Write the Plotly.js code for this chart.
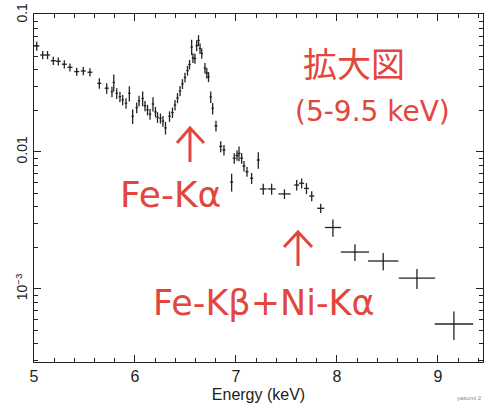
<!DOCTYPE html>
<html><head><meta charset="utf-8">
<script src="https://cdn.plot.ly/plotly-3.0.1.min.js"></script>
<style>html,body{margin:0;padding:0;background:#fff;} #chart{width:488px;height:409px;}</style>
</head><body><div id="chart"></div>
<script>
const energy = [5.027,5.086,5.134,5.191,5.241,5.300,5.356,5.423,5.488,5.554,
  5.647,5.720,5.772,5.790,5.819,5.851,5.878,5.911,5.944,5.977,
  6.017,6.040,6.076,6.099,6.124,6.149,6.178,6.203,6.223,6.252,
  6.277,6.302,6.342,6.371,6.396,6.421,6.446,6.470,6.495,6.520,
  6.540,6.561,6.574,6.594,6.611,6.629,6.644,6.661,6.693,6.711,
  6.728,6.750,6.769,6.802,6.849,6.881,6.957,6.983,7.010,7.030,
  7.056,7.079,7.109,7.155,7.221,7.270,7.353,7.480,7.601,7.650,
  7.698,7.750,7.839,7.960,8.178,8.458,8.792,9.158];
const energyErr = [0.027,0.025,0.025,0.025,0.025,0.025,0.025,0.025,0.025,0.025,
  0.02,0.02,0.012,0.012,0.012,0.012,0.012,0.012,0.012,0.012,
  0.012,0.012,0.012,0.012,0.012,0.012,0.012,0.012,0.012,0.012,
  0.012,0.012,0.012,0.012,0.012,0.012,0.012,0.012,0.012,0.012,
  0.012,0.012,0.012,0.012,0.012,0.012,0.012,0.012,0.012,0.012,
  0.012,0.012,0.012,0.015,0.015,0.015,0.015,0.015,0.015,0.015,
  0.015,0.015,0.015,0.015,0.015,0.033,0.04,0.06,0.025,0.025,
  0.025,0.025,0.035,0.08,0.14,0.15,0.18,0.19];
const flux = [0.0594,0.0510,0.0510,0.0464,0.0459,0.0437,0.0415,0.0386,0.0390,0.0382,
  0.0317,0.0292,0.0275,0.0322,0.0268,0.0253,0.0240,0.0227,0.0268,0.0182,
  0.0211,0.0236,0.0246,0.0217,0.0203,0.0189,0.0224,0.0196,0.0179,0.0176,
  0.0168,0.0150,0.0182,0.0194,0.0220,0.0248,0.0279,0.0314,0.0350,0.0393,
  0.0435,0.0584,0.0486,0.0481,0.0599,0.0651,0.0569,0.0524,0.0410,0.0377,
  0.0353,0.0252,0.0208,0.0155,0.01097,0.01034,0.00604,0.00900,0.00943,0.00975,
  0.00900,0.00790,0.00718,0.00643,0.00874,0.00537,0.00537,0.00494,0.00574,0.00591,
  0.00542,0.00477,0.00388,0.00281,0.00186,0.00160,0.00120,0.000555];
const fluxErr = [0.0045,0.0035,0.0035,0.0032,0.0031,0.0030,0.0028,0.0026,0.0027,0.0026,
  0.0028,0.0026,0.0024,0.0046,0.0024,0.0022,0.0021,0.0020,0.0034,0.0022,
  0.0019,0.0021,0.0030,0.0019,0.0018,0.0017,0.0027,0.0017,0.0016,0.0015,
  0.0015,0.0016,0.0016,0.0017,0.0019,0.0021,0.0024,0.0026,0.0029,0.0032,
  0.0035,0.0075,0.0040,0.0040,0.0055,0.0060,0.0050,0.0045,0.0036,0.0033,
  0.0030,0.0024,0.0020,0.0014,0.0010,0.0009,0.0009,0.0008,0.0008,0.0012,
  0.0008,0.0007,0.0006,0.0006,0.0012,0.0005,0.0005,0.0004,0.0005,0.0005,
  0.0005,0.0004,0.0003,0.0004,0.00026,0.00023,0.0002,0.00013];
const xTickVals = [5,6,7,8,9];
const yTickVals = [0.001,0.01,0.1];
const yTickText = ['10<sup>−3</sup>','0.01','0.1'];
const yMinorVals = [3e-4,4e-4,5e-4,6e-4,7e-4,8e-4,9e-4,0.002,0.003,0.004,0.005,0.006,0.007,0.008,0.009,0.02,0.03,0.04,0.05,0.06,0.07,0.08,0.09];

const ink = '#222';
const red = '#e2463d';
const tickFont = {family:'Liberation Sans, Arial, sans-serif', size:16, color:ink};

const trace = {
  x: energy, y: flux, type:'scatter', mode:'markers',
  marker:{size:1, color:ink},
  error_x:{type:'data', array:energyErr, visible:true, width:0, thickness:1.3, color:ink},
  error_y:{type:'data', array:fluxErr, visible:true, width:0, thickness:1.3, color:ink},
  hoverinfo:'skip', showlegend:false
};

function arrowPath(xc, yBottom, yTip, xl, xr, yHead){
  return 'M'+xc+','+yBottom+' L'+xc+','+yTip+' M'+xl+','+yHead+' L'+xc+','+yTip+' L'+xr+','+yHead;
}

const layout = {
  width:488, height:409,
  margin:{l:34, r:5, t:14, b:47, pad:0},
  paper_bgcolor:'#fff', plot_bgcolor:'#fff',
  showlegend:false,
  xaxis:{
    range:[5,9.446], tickmode:'array', tickvals:xTickVals,
    ticks:'inside', ticklen:7, tickwidth:1, tickcolor:ink,
    showline:true, linecolor:ink, linewidth:1, mirror:'ticks',
    showgrid:false, zeroline:false,
    minor:{dtick:0.2, tick0:5, ticks:'inside', ticklen:4, tickwidth:1, tickcolor:ink, showgrid:false},
    tickfont:tickFont,
    title:{text:'Energy (keV)', font:{family:'Liberation Sans, Arial, sans-serif', size:16, color:ink}, standoff:4}
  },
  yaxis:{
    type:'log', range:[-3.533,-0.993],
    tickmode:'array', tickvals:yTickVals, ticktext:yTickText, tickangle:-90,
    ticks:'inside', ticklen:7, tickwidth:1, tickcolor:ink,
    showline:true, linecolor:ink, linewidth:1, mirror:'ticks',
    showgrid:false, zeroline:false,
    minor:{tickmode:'array', tickvals:yMinorVals, ticks:'inside', ticklen:4, tickwidth:1, tickcolor:ink, showgrid:false},
    tickfont:{family:'Liberation Sans, Arial, sans-serif', size:14, color:ink}
  },
  annotations:[
    {xref:'paper', yref:'paper', x:0.7127, y:0.862, text:'拡大図', showarrow:false, xanchor:'center', yanchor:'middle',
     font:{family:'Noto Sans CJK JP', size:34, color:red}},
    {xref:'paper', yref:'paper', x:0.7539, y:0.7184, text:'(5-9.5 keV)', showarrow:false, xanchor:'center', yanchor:'middle',
     font:{family:'DejaVu Sans', size:28, color:red}},
    {xref:'paper', yref:'paper', x:0.3029, y:0.48, text:'Fe-Kα', showarrow:false, xanchor:'center', yanchor:'middle',
     font:{family:'DejaVu Sans', size:36, color:red}},
    {xref:'paper', yref:'paper', x:0.5122, y:0.1695, text:'Fe-Kβ+Ni-Kα', showarrow:false, xanchor:'center', yanchor:'middle',
     font:{family:'DejaVu Sans', size:35, color:red}},
    {xref:'paper', yref:'paper', x:0.9376, y:-0.1034, text:'yasumi 2', showarrow:false, xanchor:'left', yanchor:'middle',
     font:{family:'Liberation Sans, Arial, sans-serif', size:6, color:'#888'}}
  ],
  shapes:[
    {type:'path', xref:'paper', yref:'paper', path:arrowPath(0.3474,0.5747,0.6724,0.3185,0.3786,0.6293), line:{color:red, width:3}},
    {type:'path', xref:'paper', yref:'paper', path:arrowPath(0.588,0.2759,0.3736,0.5568,0.6192,0.3305), line:{color:red, width:3}}
  ]
};

Plotly.newPlot('chart', [trace], layout, {staticPlot:true, displayModeBar:false});
</script>
</body></html>
